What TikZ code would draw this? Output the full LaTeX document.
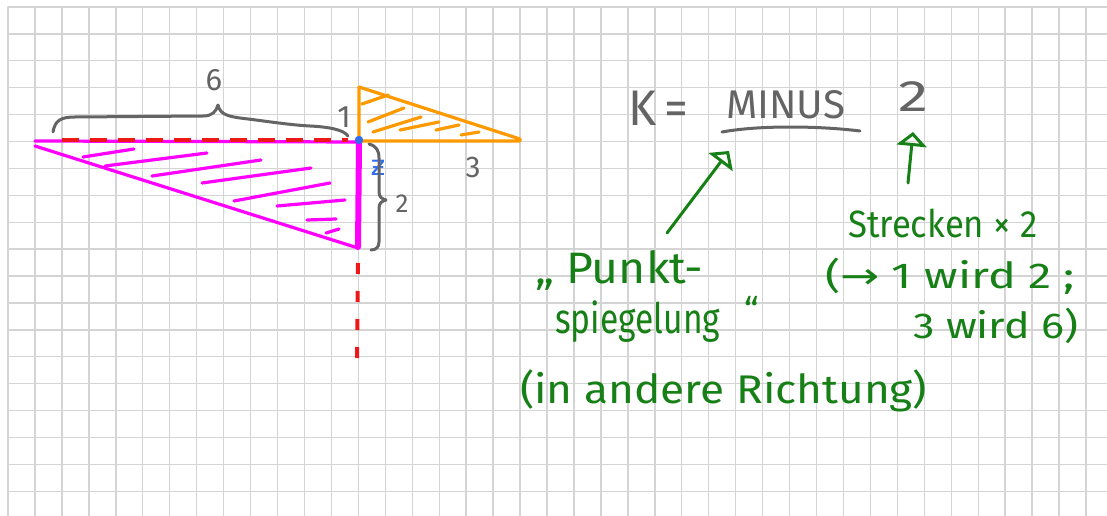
\documentclass[tikz,border=0pt]{standalone}
\usepackage{graphicx}
\usepackage{fontspec}
\setmainfont{Fira Sans}
\newfontfamily\symfont{DejaVu Sans}
\usetikzlibrary{arrows.meta}
\definecolor{gridc}{RGB}{212,212,212}
\definecolor{pinkc}{RGB}{255,0,255}
\definecolor{orangec}{RGB}{255,153,0}
\definecolor{redc}{RGB}{238,24,24}
\definecolor{bluec}{RGB}{50,110,240}
\definecolor{grayc}{RGB}{100,100,100}
\definecolor{greenc}{RGB}{22,128,22}
\newcommand{\hw}[2]{\resizebox{#1}{\height}{#2}}
\tikzset{
  gridline/.style={draw=gridc, line width=1.4pt},
  pinkline/.style={draw=pinkc, line width=3.2pt},
  hatchpink/.style={draw=pinkc, line width=3.2pt},
  orangeline/.style={draw=orangec, line width=3.2pt},
  reddash/.style={draw=redc, line width=4pt, line cap=butt},
  graybrace/.style={draw=grayc, line width=3pt},
  graytext/.style={text=grayc, inner sep=0pt},
  greentext/.style={text=greenc, inner sep=0pt, anchor=base west},
  greenarrow/.style={draw=greenc, line width=3pt, -{Triangle[open, length=14pt, width=30pt, line width=3pt]}},
}
\begin{document}
\begin{tikzpicture}[x=1pt, y=-1pt, line cap=round, line join=round]
\useasboundingbox (0,0) rectangle (1107,516);
\fill[white] (0,0) rectangle (1107,516);
% grid
\foreach \k in {0,...,40} \draw[gridline] ({8+26.95*\k},7) -- ({8+26.95*\k},516);
\foreach \k in {0,...,18} \draw[gridline] (8,{7+26.9*\k}) -- (1107,{7+26.9*\k});

% pink triangle
\draw[pinkline] (35,146) -- (358,248);
\draw[pinkline] (35,141) -- (359,142);
\draw[draw=pinkc, line width=6pt] (359,142) -- (358,247);
\foreach \a/\b/\c/\d in {83/157/134/149, 105/166/207/153, 152/176/261/160, 202/183/311/168, 234/201/330/183, 277/206/345/200, 307/220/336/219, 326/233/339/229}
  \draw[hatchpink] (\a,\b) -- (\c,\d);

% red dashed lines
\draw[reddash, dash pattern=on 17pt off 11pt] (62,139.5) -- (348,139.5);
\draw[reddash, dash pattern=on 11pt off 17pt] (358,263) -- (357,361);

% orange triangle
\draw[orangeline] (359,141) -- (359,87) -- (520,139) -- (520,141) -- cycle;
\foreach \a/\b/\c/\d in {362/104/388/95, 368/122/404/108, 373/132/421/117, 400/130/439/122, 436/130/459/125, 461/135/479/132}
  \draw[orangeline] (\a,\b) -- (\c,\d);

% blue point and mark
\fill[bluec] (359,140) circle (4.2pt);
\node[text=bluec, inner sep=0pt, font=\symfont\fontsize{28}{28}\selectfont] (zmark) at (378,168) {ƶ};

% braces
\draw[graybrace] (53,132) .. controls (55,121) and (60,117) .. (75,117) -- (203,116)
  .. controls (212,116) and (216,112) .. (218,105)
  .. controls (220,113) and (225,116) .. (240,118)
  .. controls (265,121) and (290,125) .. (310,126)
  .. controls (330,127) and (344,130) .. (348,136);
\draw[graybrace] (369,144) .. controls (376,146) and (379,150) .. (379,158) -- (379,192)
  .. controls (379,197) and (382,199) .. (386,200)
  .. controls (382,201) and (379,203) .. (379,208) -- (379,242)
  .. controls (379,247) and (376,250) .. (371,250);

% gray labels
\node[graytext, font=\fontsize{31}{31}\selectfont] (six) at (214,80) {6};
\node[graytext, font=\fontsize{31}{31}\selectfont] (one) at (344,117) {1};
\node[graytext, font=\fontsize{30}{30}\selectfont] (three) at (473,167) {3};
\node[graytext, font=\fontsize{26}{26}\selectfont] (two) at (402,204) {2};

% K = MINUS 2
\node[graytext, anchor=base west, font=\fontsize{50}{50}\selectfont] (K) at (628,125) {\hw{60pt}{K\,=}};
\node[graytext, anchor=base west, font=\fontsize{40}{40}\selectfont] (minus) at (726,118) {\hw{119pt}{MINUS}};
\node[graytext, anchor=base west, font=\fontsize{44}{44}\selectfont] (k2) at (898,112) {\hw{30pt}{2}};
\draw[graybrace] (722,132) .. controls (760,125) and (820,126) .. (860,131);

% green texts
\node[greentext, font=\fontsize{44}{46}\selectfont] (punkt) at (535,283) {\hw{168pt}{„ Punkt-}};
\node[greentext, font=\fontsize{42}{46}\selectfont] (spieg) at (555,333) {\hw{165pt}{spiegelung}};
\node[greentext, font=\fontsize{36}{40}\selectfont] (quote) at (744,323) {“};
\node[greentext, font=\fontsize{40}{44}\selectfont] (richt) at (520,403) {\hw{407pt}{(in andere Richtung)}};
\node[greentext, font=\fontsize{38}{40}\selectfont] (streck) at (848,237) {\hw{189pt}{Strecken × 2}};
\node[greentext, font=\fontsize{36}{40}\selectfont] (wird1) at (825,288) {\hw{250pt}{({\symfont →} 1 wird 2 ;}};
\node[greentext, font=\fontsize{36}{40}\selectfont] (wird2) at (913,338) {\hw{165pt}{3 wird 6)}};

% green arrows
\coordinate (a1s) at (667,233);
\coordinate (a1e) at (729,151);
\coordinate (a2s) at (908,183);
\coordinate (a2e) at (913,132);
\draw[greenarrow] (a1s) -- (a1e);
\draw[greenarrow] (a2s) -- (a2e);
\end{tikzpicture}
\end{document}
